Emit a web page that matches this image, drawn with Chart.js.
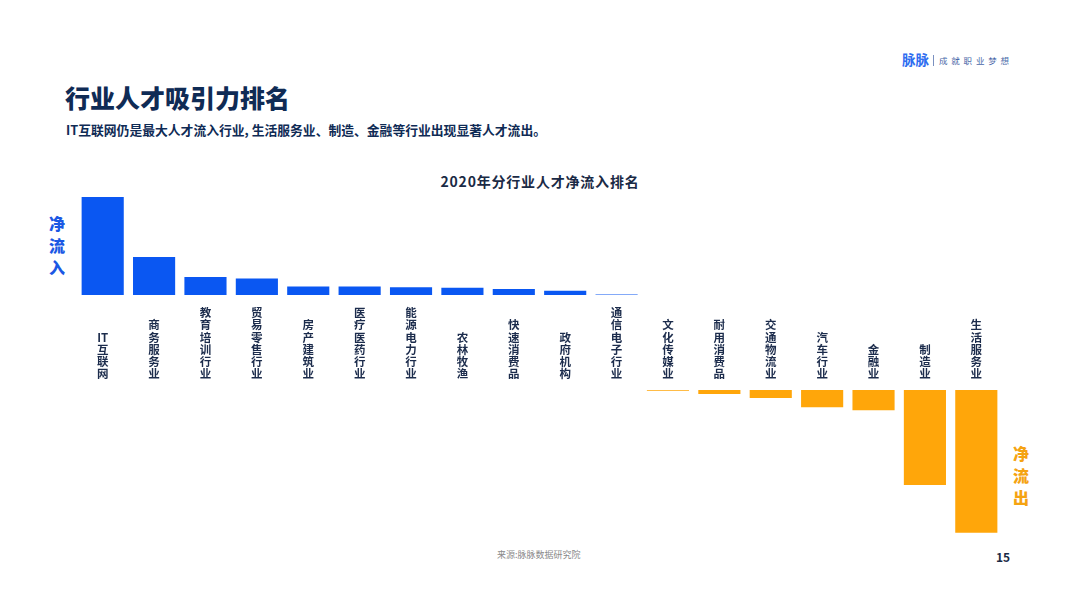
<!DOCTYPE html>
<html><head><meta charset="utf-8">
<script src="https://cdn.jsdelivr.net/npm/chart.js@4.4.1/dist/chart.umd.min.js"></script>
<style>
html,body{margin:0;padding:0;background:#fff;width:1080px;height:608px;overflow:hidden;font-family:"Noto Sans CJK SC","Noto Sans",sans-serif;}
.abs{position:absolute;}
#title{left:65px;top:80px;font-size:25px;font-weight:900;color:#0f2b55;letter-spacing:0px;line-height:34px;}
#sub{left:66px;top:120px;font-size:12.8px;font-weight:700;color:#0f2b55;line-height:20px;}
#ctitle{left:0;width:1080px;text-align:center;top:171px;font-size:14px;font-weight:700;color:#1a2a45;letter-spacing:0.8px;line-height:20px;padding-left:0px;}
#logo{left:902px;top:49px;line-height:18px;white-space:nowrap;}
#logo .b{font-size:13.5px;font-weight:700;color:#2e6df0;}
#logo .sep{display:inline-block;width:1px;height:11px;background:#7a90c0;margin:0 5px 0 4px;vertical-align:-1px;}
#logo .s{font-size:8.5px;color:#4a67a8;letter-spacing:3.8px;vertical-align:1px;}
.vl{font-size:16px;font-weight:900;line-height:22px;width:20px;text-align:center;}
#inl{left:47px;top:212px;color:#1b58e4;}
#outl{left:1011px;top:442px;color:#f5a312;}
#src{left:497px;top:548px;font-size:9px;color:#8a8a8a;line-height:14px;}
#pg{left:996px;top:549px;font-size:12px;font-weight:700;color:#1a2a45;line-height:16px;}
#top{left:77px;top:195px;width:925px;height:187px;}
#bot{left:77px;top:390px;width:925px;height:150px;}
</style></head>
<body>
<div id="logo" class="abs"><span class="b">脉脉</span><span class="sep"></span><span class="s">成就职业梦想</span></div>
<div id="title" class="abs">行业人才吸引力排名</div>
<div id="sub" class="abs">IT互联网仍是最大人才流入行业, 生活服务业、制造、金融等行业出现显著人才流出。</div>
<div id="ctitle" class="abs">2020年分行业人才净流入排名</div>
<div id="inl" class="abs vl">净<br>流<br>入</div>
<div id="outl" class="abs vl">净<br>流<br>出</div>
<div id="top" class="abs"><canvas id="c1"></canvas></div>
<div id="bot" class="abs"><canvas id="c2"></canvas></div>
<div id="src" class="abs">来源:脉脉数据研究院</div>
<div id="pg" class="abs">15</div>
<script>
// Industry categories (label lines are stacked vertically)
const categories = [
  ['IT','互','联','网'],
  ['商','务','服','务','业'],
  ['教','育','培','训','行','业'],
  ['贸','易','零','售','行','业'],
  ['房','产','建','筑','业'],
  ['医','疗','医','药','行','业'],
  ['能','源','电','力','行','业'],
  ['农','林','牧','渔'],
  ['快','速','消','费','品'],
  ['政','府','机','构'],
  ['通','信','电','子','行','业'],
  ['文','化','传','媒','业'],
  ['耐','用','消','费','品'],
  ['交','通','物','流','业'],
  ['汽','车','行','业'],
  ['金','融','业'],
  ['制','造','业'],
  ['生','活','服','务','业']
];
// Net talent flow (relative units)
const netFlow = [9.8, 3.8, 1.8, 1.65, 0.85, 0.85, 0.77, 0.73, 0.6, 0.43, 0.05,
                 -0.07, -0.4, -0.8, -1.73, -2.03, -9.5, -14.27];
const inflowMax = 10;
const outflowMin = -15;

const inflow = netFlow.map(v => v > 0 ? v : null);
const outflow = netFlow.map(v => v < 0 ? v : null);

const BLUE = '#0a57f2';
const ORANGE = '#ffa60a';

const common = {
  responsive: true,
  maintainAspectRatio: false,
  animation: false,
  layout: { padding: 0 },
  plugins: { legend: { display: false }, tooltip: { enabled: false }, title: { display: false } },
};

new Chart(document.getElementById('c1'), {
  type: 'bar',
  data: { labels: categories, datasets: [{ data: inflow, backgroundColor: BLUE, barPercentage: 0.82, categoryPercentage: 1.0 }] },
  options: Object.assign({}, common, {
    scales: {
      x: {
        grid: { display: false, drawTicks: false },
        border: { display: false },
        ticks: {
          autoSkip: false, maxRotation: 0, minRotation: 0, padding: 18,
          crossAlign: 'far',
          color: '#1c2c4c',
          font: { family: '"Noto Sans CJK SC", sans-serif', size: 11.5, weight: '700', lineHeight: 1.05 }
        },
        afterFit: (axis) => { axis.height = 87; }
      },
      y: { display: false, min: 0, max: inflowMax }
    }
  })
});

new Chart(document.getElementById('c2'), {
  type: 'bar',
  data: { labels: categories, datasets: [{ data: outflow, backgroundColor: ORANGE, barPercentage: 0.82, categoryPercentage: 1.0 }] },
  options: Object.assign({}, common, {
    scales: {
      x: { display: false },
      y: { display: false, min: outflowMin, max: 0 }
    }
  })
});
</script>
</body></html>
